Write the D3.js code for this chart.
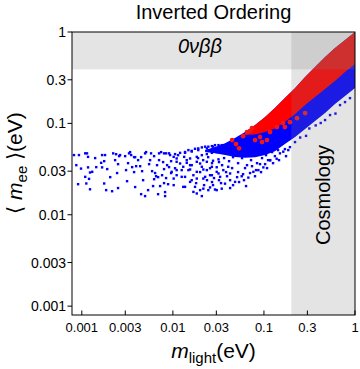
<!DOCTYPE html>
<html>
<head>
<meta charset="utf-8">
<script src="https://cdn.jsdelivr.net/npm/d3@7"></script>
<style>
  body { margin: 0; background: #fff; }
  svg { display: block; font-family: "Liberation Sans", Arial, sans-serif; }
</style>
</head>
<body>
<div id="chart"></div>
<script>
// Axis ticks
const xTicks = [0.001, 0.003, 0.01, 0.03, 0.1, 0.3, 1];
const xTickLabels = ["0.001", "0.003", "0.01", "0.03", "0.1", "0.3", "1"];
const yTicks = [0.001, 0.003, 0.01, 0.03, 0.1, 0.3, 1];
const yTickLabels = ["0.001", "0.003", "0.01", "0.03", "0.1", "0.3", "1"];

// Excluded regions (eV)
const ovbbLimit = 0.39;   // 0νββ bound on m_ee
const cosmoLimit = 0.2;   // cosmology bound on m_light

// Dense part of the blue band: m_light, upper and lower m_ee
const bandM = [0.0226, 0.029, 0.0374, 0.048, 0.062, 0.080, 0.103, 0.132, 0.170, 0.220, 0.283, 0.364, 0.469, 0.603, 0.777, 1.0];
const bandUpper = [0.051, 0.055, 0.0608, 0.069, 0.0803, 0.0958, 0.1172, 0.1471, 0.1893, 0.2434, 0.3214, 0.414, 0.532, 0.668, 0.818, 1.0];
const bandLower = [0.0485, 0.047, 0.045, 0.043, 0.042, 0.0427, 0.045, 0.0497, 0.0593, 0.0708, 0.0866, 0.106, 0.1297, 0.1627, 0.199, 0.2434];

// Dense red part on top of the band
const redM = [0.062, 0.080, 0.103, 0.132, 0.170, 0.220, 0.283, 0.364, 0.469, 0.603, 0.777, 1.0];
const redUpper = [0.0803, 0.0958, 0.1172, 0.1471, 0.1893, 0.2434, 0.3214, 0.414, 0.532, 0.668, 0.818, 1.0];
const redLower = [0.0744, 0.0754, 0.0803, 0.0877, 0.1033, 0.1264, 0.1586, 0.1941, 0.2375, 0.2905, 0.3646, 0.446];

// Scattered blue points [m_light, m_ee]
const bluePoints = [
  [0.00082, 0.045], [0.00093, 0.045], [0.00109, 0.047], [0.00114, 0.047], [0.00117, 0.043],
  [0.00098, 0.032], [0.00117, 0.033], [0.00109, 0.026], [0.00123, 0.029], [0.00091, 0.0216],
  [0.00112, 0.022], [0.00123, 0.019], [0.00163, 0.037], [0.00167, 0.045], [0.0018, 0.045],
  [0.00176, 0.0386], [0.00167, 0.033], [0.0019, 0.0316], [0.00176, 0.022], [0.00185, 0.0186],
  [0.00215, 0.0181], [0.00221, 0.047], [0.00238, 0.046], [0.00232, 0.0396], [0.0025, 0.0358],
  [0.00244, 0.0286], [0.00257, 0.0438], [0.0013, 0.0295], [0.0012, 0.0247],
  [0.00263, 0.045], [0.00299, 0.0438], [0.0033, 0.047], [0.00339, 0.0485], [0.00348, 0.045],
  [0.00375, 0.0427], [0.00385, 0.0427], [0.00322, 0.0367], [0.00357, 0.0332], [0.00395, 0.034],
  [0.00437, 0.034], [0.00375, 0.0293], [0.00448, 0.0427], [0.00495, 0.047], [0.00508, 0.0485],
  [0.00548, 0.0358], [0.00576, 0.047], [0.00622, 0.0438], [0.00591, 0.030], [0.00638, 0.0286],
  [0.00654, 0.0264], [0.00688, 0.0258], [0.00471, 0.0239], [0.00622, 0.0245], [0.00385, 0.0201],
  [0.00448, 0.0168], [0.00495, 0.016], [0.00534, 0.0186], [0.00705, 0.047], [0.00742, 0.0485],
  [0.0080, 0.047], [0.00842, 0.047], [0.00908, 0.047], [0.00932, 0.045], [0.00705, 0.0396],
  [0.00781, 0.0377], [0.00864, 0.0349], [0.00908, 0.0332], [0.008, 0.0316], [0.00956, 0.0286],
  [0.00761, 0.0271], [0.00842, 0.0252], [0.008, 0.0222], [0.00886, 0.0216], [0.00688, 0.0168],
  [0.00821, 0.0177], [0.00821, 0.016],
  [0.00306, 0.0308], [0.00415, 0.0396], [0.00459, 0.030], [0.00562, 0.0396], [0.0067, 0.0349],
  [0.00724, 0.0206], [0.00956, 0.0386], [0.0102, 0.0211], [0.00606, 0.0206], [0.00314, 0.0233],
  [0.00144, 0.0332], [0.0014, 0.0417], [0.00205, 0.0258], [0.00087, 0.0349], [0.0025, 0.0196],
  [0.01057, 0.0461], [0.012, 0.0476], [0.0136, 0.0486], [0.0148, 0.051], [0.0161, 0.050],
  [0.0175, 0.0527], [0.019, 0.0532], [0.0208, 0.0546], [0.0226, 0.0556], [0.0245, 0.0556],
  [0.0268, 0.0564], [0.029, 0.0578], [0.0317, 0.0578], [0.011, 0.0413], [0.0133, 0.043],
  [0.01545, 0.0413], [0.0183, 0.043], [0.0208, 0.0449], [0.0236, 0.0461], [0.0268, 0.0476],
  [0.0303, 0.0486], [0.012, 0.0364], [0.0142, 0.037], [0.0161, 0.0349], [0.0199, 0.0364],
  [0.0236, 0.038], [0.0276, 0.039], [0.0317, 0.0404], [0.01057, 0.0323], [0.0125, 0.0308],
  [0.01545, 0.0313], [0.0183, 0.0295], [0.0216, 0.0313], [0.0256, 0.0323], [0.0303, 0.0331],
  [0.011, 0.0271], [0.0136, 0.026], [0.0161, 0.0239], [0.0183, 0.0249], [0.0226, 0.026],
  [0.0268, 0.0271], [0.0317, 0.0283], [0.0136, 0.0202], [0.0168, 0.0178], [0.0183, 0.0171],
  [0.0216, 0.0193], [0.0256, 0.0199], [0.029, 0.0189],
  [0.0097, 0.0295], [0.011, 0.0308], [0.0102, 0.0249], [0.0125, 0.026], [0.013, 0.0202],
  [0.01545, 0.0229], [0.0175, 0.0202], [0.0199, 0.0186], [0.0208, 0.016], [0.0245, 0.0186],
  [0.0276, 0.0211], [0.0303, 0.0186], [0.0344, 0.0193], [0.0374, 0.0219], [0.0425, 0.0239],
  [0.0482, 0.0229], [0.057, 0.0264], [0.0674, 0.0255], [0.0765, 0.0295], [0.0868, 0.0308],
  [0.0985, 0.033], [0.1167, 0.0395], [0.138, 0.041], [0.163, 0.049], [0.185, 0.051],
  [0.0148, 0.0308], [0.0168, 0.0271], [0.0216, 0.0249], [0.0256, 0.0271], [0.033, 0.026],
  [0.0425, 0.0283], [0.0142, 0.0396], [0.0102, 0.043], [0.0114, 0.0449], [0.0136, 0.0476],
  [0.0161, 0.0492], [0.019, 0.051], [0.0236, 0.0532], [0.0276, 0.0556], [0.0344, 0.0578],
  [0.0405, 0.0603], [0.0482, 0.0656], [0.057, 0.0713], [0.0704, 0.0776],
  [0.011, 0.038], [0.013, 0.0335], [0.01545, 0.0349], [0.0183, 0.038], [0.0208, 0.0335],
  [0.0236, 0.0308], [0.0268, 0.0335], [0.0303, 0.0295], [0.0358, 0.0308], [0.0405, 0.0335],
  [0.0347, 0.0349], [0.0447, 0.0324], [0.052, 0.0293], [0.062, 0.0324], [0.074, 0.034],
  [0.0906, 0.0358], [0.059, 0.0278], [0.0384, 0.0293], [0.111, 0.0396], [0.0819, 0.0308],
  [0.0507, 0.0258], [0.0321, 0.0239],
  [0.0189, 0.0417], [0.0215, 0.0396], [0.0244, 0.0427], [0.0269, 0.0367], [0.0321, 0.0377],
  [0.0365, 0.0417], [0.0414, 0.0386], [0.0458, 0.0427], [0.052, 0.0367], [0.0575, 0.0417],
  [0.0652, 0.0349], [0.0722, 0.0396], [0.084, 0.0367], [0.0953, 0.0417], [0.1054, 0.0449],
  [0.1228, 0.0485], [0.1429, 0.051], [0.0199, 0.0293], [0.0237, 0.0239], [0.0283, 0.0252],
  [0.0338, 0.0222], [0.0393, 0.0264], [0.0458, 0.0211], [0.0533, 0.0228], [0.0604, 0.0239],
  [0.0704, 0.0286], [0.0798, 0.0264], [0.0929, 0.0293], [0.1081, 0.0324], [0.1259, 0.0367],
  [0.1464, 0.0396], [0.1748, 0.0438], [0.018, 0.0222], [0.022, 0.0211], [0.0269, 0.0228],
  [0.0425, 0.0196], [0.0636, 0.0206],
  [0.42, 0.101], [0.315, 0.088], [0.25, 0.070], [0.193, 0.055], [0.150, 0.047],
  [0.532, 0.1233], [0.685, 0.1586], [0.777, 0.171], [0.881, 0.189], [0.61, 0.128],
  [0.469, 0.1087], [0.37, 0.095], [0.29, 0.073], [0.2195, 0.0624], [0.170, 0.0523],
  [0.132, 0.0438], [0.117, 0.0396], [0.103, 0.0358]
];

// Isolated red points [m_light, m_ee]
const redPoints = [
  [0.0447, 0.0656], [0.0533, 0.0534], [0.0652, 0.0803], [0.0704, 0.0824], [0.0798, 0.0656],
  [0.0906, 0.0708], [0.0953, 0.0624], [0.108, 0.0656], [0.1167, 0.0803], [0.139, 0.0911],
  [0.162, 0.101], [0.074, 0.0888], [0.059, 0.0725], [0.193, 0.103], [0.231, 0.114],
  [0.170, 0.0911], [0.283, 0.1297], [0.0494, 0.0593]
];

const width = 360;
const height = 369;
const margin = { top: 32, right: 5, bottom: 54, left: 72 };

const x = d3.scaleLog().domain([0.00078, 1]).range([margin.left, width - margin.right]);
const y = d3.scaleLog().domain([0.0008, 1]).range([height - margin.bottom, margin.top]);

const svg = d3.select("#chart").append("svg")
  .attr("width", width)
  .attr("height", height);

svg.append("clipPath").attr("id", "plot-clip")
  .append("rect")
  .attr("x", x.range()[0]).attr("y", y.range()[1])
  .attr("width", x.range()[1] - x.range()[0])
  .attr("height", y.range()[0] - y.range()[1]);

const plot = svg.append("g").attr("clip-path", "url(#plot-clip)");

const blue = "#0000ff";
const red = "#ff0000";
const pt = 2.4;

// scattered blue points
plot.selectAll(".bp").data(bluePoints).join("rect")
  .attr("x", d => x(d[0]) - pt / 2)
  .attr("y", d => y(d[1]) - pt / 2)
  .attr("width", pt).attr("height", pt)
  .attr("fill", blue);

// dense blue band
const band = bandM.map((m, i) => ({ m, hi: bandUpper[i], lo: bandLower[i] }));
const area = d3.area().x(d => x(d.m)).y0(d => y(d.lo)).y1(d => y(d.hi));
plot.append("path").datum(band).attr("d", area).attr("fill", blue);

// dense red band
const redBand = redM.map((m, i) => ({ m, hi: redUpper[i], lo: redLower[i] }));
plot.append("path").datum(redBand).attr("d", area).attr("fill", red);

plot.selectAll(".rp").data(redPoints).join("circle")
  .attr("cx", d => x(d[0]))
  .attr("cy", d => y(d[1]))
  .attr("r", 2.4)
  .attr("fill", "#f01818");

// excluded regions, drawn over the points
plot.append("rect")
  .attr("x", x(cosmoLimit)).attr("y", y.range()[1])
  .attr("width", x(1) - x(cosmoLimit))
  .attr("height", y.range()[0] - y.range()[1])
  .attr("fill", "#808080").attr("opacity", 0.21);

plot.append("rect")
  .attr("x", x.range()[0]).attr("y", y(1))
  .attr("width", x.range()[1] - x.range()[0])
  .attr("height", y(ovbbLimit) - y(1))
  .attr("fill", "#808080").attr("opacity", 0.21);

// frame
svg.append("rect")
  .attr("x", x.range()[0]).attr("y", y.range()[1])
  .attr("width", x.range()[1] - x.range()[0])
  .attr("height", y.range()[0] - y.range()[1])
  .attr("fill", "none").attr("stroke", "#000").attr("stroke-width", 1);

// bottom ticks (inward)
xTicks.forEach((t, i) => {
  const px = x(t);
  svg.append("line")
    .attr("x1", px).attr("x2", px)
    .attr("y1", y.range()[0]).attr("y2", y.range()[0] - 4.5)
    .attr("stroke", "#000");
  svg.append("text")
    .attr("x", px).attr("y", y.range()[0] + 17)
    .attr("text-anchor", "middle")
    .style("font-size", "13px")
    .text(xTickLabels[i]);
});

// left ticks (outward)
yTicks.forEach((t, i) => {
  const py = y(t);
  svg.append("line")
    .attr("x1", x.range()[0]).attr("x2", x.range()[0] - 4.5)
    .attr("y1", py).attr("y2", py)
    .attr("stroke", "#000");
  svg.append("text")
    .attr("x", x.range()[0] - 6).attr("y", py)
    .attr("dy", "0.36em")
    .attr("text-anchor", "end")
    .style("font-size", "14px")
    .text(yTickLabels[i]);
});

// title
svg.append("text")
  .attr("x", (x.range()[0] + x.range()[1]) / 2).attr("y", 19)
  .attr("text-anchor", "middle")
  .style("font-size", "20px")
  .text("Inverted Ordering");

// region labels
svg.append("text")
  .attr("x", 200).attr("y", 53)
  .attr("text-anchor", "middle")
  .style("font-size", "20px").style("font-style", "italic")
  .text("0νββ");

svg.append("text")
  .attr("transform", "translate(330,195) rotate(-90)")
  .attr("text-anchor", "middle")
  .style("font-size", "20px")
  .text("Cosmology");

// x axis label
const xl = svg.append("text")
  .attr("x", 213.5).attr("y", 358)
  .attr("text-anchor", "middle")
  .style("font-size", "21px");
xl.append("tspan").style("font-style", "italic").text("m");
xl.append("tspan").attr("dy", 5).style("font-size", "15px").text("light");
xl.append("tspan").attr("dy", -5).text("(eV)");

// y axis label
const yl = svg.append("text")
  .attr("transform", "translate(22,163) rotate(-90)")
  .attr("text-anchor", "middle")
  .style("font-size", "21px");
yl.append("tspan").text("⟨ ");
yl.append("tspan").style("font-style", "italic").text("m");
yl.append("tspan").attr("dy", 5).style("font-size", "15px").text("ee");
yl.append("tspan").attr("dy", -5).text(" ⟩(eV)");
</script>
</body>
</html>
